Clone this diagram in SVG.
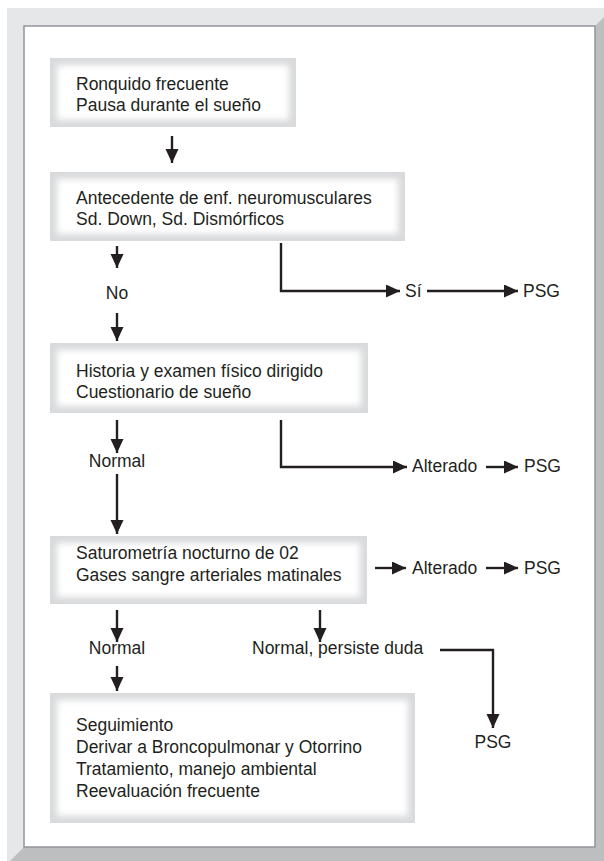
<svg xmlns="http://www.w3.org/2000/svg" width="604" height="861" viewBox="0 0 604 861">
<style>
.t{font-family:"Liberation Sans",Arial,sans-serif;font-size:17.5px;fill:#231f20}
.c{stroke:#231f20;stroke-width:2.4;fill:none}
.bo{fill:#d9dadc}
.bi{fill:#fff;filter:url(#soft)}
</style>
<defs>
<filter id="soft" x="-20%" y="-20%" width="140%" height="140%"><feGaussianBlur stdDeviation="3"/></filter>
<marker id="ah" markerUnits="userSpaceOnUse" markerWidth="15" markerHeight="14" refX="14" refY="6.5" orient="auto"><path d="M0,0 L14,6.5 L0,13 z" fill="#231f20"/></marker>
</defs>
<g id="frame">
<rect x="7" y="8" width="597" height="853" fill="#bcbec0"/>
<polygon points="7,8 604,8 604,17 595,26 24,26 24,847 10,861 7,861" fill="#e6e7e8"/>
<rect x="24" y="26" width="571" height="821" fill="#fff" stroke="#939598" stroke-width="1.5"/>
</g>
<g id="n1">
<rect class="bo" x="50" y="58" width="246" height="69"/>
<rect class="bi" x="57" y="65" width="232" height="55"/>
<text class="t" x="76" y="89.5">Ronquido frecuente</text>
<text class="t" x="76" y="110.5">Pausa durante el sueño</text>
</g>
<g id="n2">
<rect class="bo" x="50" y="172" width="355" height="69"/>
<rect class="bi" x="57" y="179" width="341" height="55"/>
<text class="t" x="76" y="204">Antecedente de enf. neuromusculares</text>
<text class="t" x="76" y="225">Sd. Down, Sd. Dismórficos</text>
</g>
<g id="n3">
<rect class="bo" x="50" y="343" width="318" height="70"/>
<rect class="bi" x="57" y="350" width="304" height="56"/>
<text class="t" x="76" y="377">Historia y examen físico dirigido</text>
<text class="t" x="76" y="398">Cuestionario de sueño</text>
</g>
<g id="n4">
<rect class="bo" x="50" y="536" width="317" height="68"/>
<rect class="bi" x="57" y="543" width="303" height="54"/>
<text class="t" x="76" y="559">Saturometría nocturno de 02</text>
<text class="t" x="76" y="581">Gases sangre arteriales matinales</text>
</g>
<g id="n5">
<rect class="bo" x="50" y="693" width="365" height="130"/>
<rect class="bi" x="57" y="700" width="351" height="116"/>
<text class="t" x="76" y="731">Seguimiento</text>
<text class="t" x="76" y="753">Derivar a Broncopulmonar y Otorrino</text>
<text class="t" x="76" y="775">Tratamiento, manejo ambiental</text>
<text class="t" x="76" y="797">Reevaluación frecuente</text>
</g>
<g id="labels">
<text class="t" x="117" y="299" text-anchor="middle">No</text>
<text class="t" x="405" y="297">Sí</text>
<text class="t" x="523" y="297">PSG</text>
<text class="t" x="117" y="467" text-anchor="middle">Normal</text>
<text class="t" x="412" y="472">Alterado</text>
<text class="t" x="524" y="472">PSG</text>
<text class="t" x="412" y="574">Alterado</text>
<text class="t" x="524" y="574">PSG</text>
<text class="t" x="117" y="654" text-anchor="middle">Normal</text>
<text class="t" x="252" y="654">Normal, persiste duda</text>
<text class="t" x="493" y="748" text-anchor="middle">PSG</text>
</g>
<g id="connectors">
<path class="c" d="M172,136 V163" marker-end="url(#ah)"/>
<path class="c" d="M117,246 V268" marker-end="url(#ah)"/>
<path class="c" d="M117,313 V341" marker-end="url(#ah)"/>
<path class="c" d="M281,243 V291 H400" marker-end="url(#ah)"/>
<path class="c" d="M427,291 H518" marker-end="url(#ah)"/>
<path class="c" d="M117,420 V453" marker-end="url(#ah)"/>
<path class="c" d="M117,474 V534" marker-end="url(#ah)"/>
<path class="c" d="M281,420 V467 H407" marker-end="url(#ah)"/>
<path class="c" d="M486,467 H518" marker-end="url(#ah)"/>
<path class="c" d="M375,568 H406" marker-end="url(#ah)"/>
<path class="c" d="M486,568 H518" marker-end="url(#ah)"/>
<path class="c" d="M117,610 V642" marker-end="url(#ah)"/>
<path class="c" d="M320,610 V642" marker-end="url(#ah)"/>
<path class="c" d="M117,666 V691" marker-end="url(#ah)"/>
<path class="c" d="M440,650 H493 V728" marker-end="url(#ah)"/>
</g>
</svg>
